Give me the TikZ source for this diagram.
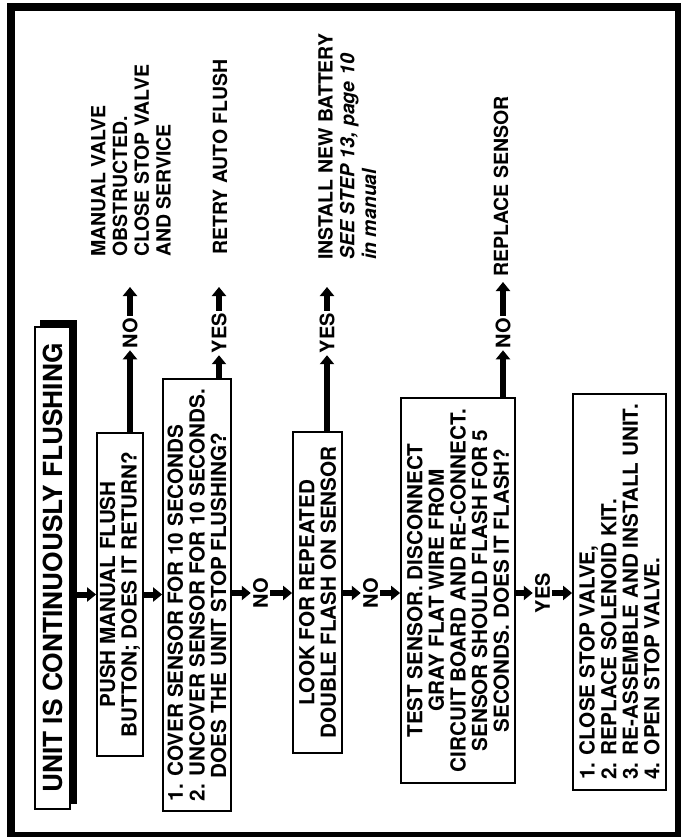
\documentclass[tikz,border=0pt]{standalone}
\usepackage{fontspec}
\setmainfont{TeX Gyre Heros}
\usetikzlibrary{arrows.meta,backgrounds}

\begin{document}
\begin{tikzpicture}[x=1pt, y=-1pt,
			every node/.style={rotate=90, font=\bfseries},
			box/.style={draw, line width=1.8pt, fill=white, inner sep=0pt, font=\fontsize{20.7}{21.6}\selectfont\bfseries},
			answer/.style={inner sep=2pt, font=\fontsize{20}{21}\selectfont\bfseries},
			result/.style={inner sep=0pt, align=left, font=\fontsize{19.5}{21.7}\selectfont\bfseries},
			flow/.style={line width=6pt, -{Triangle[width=14pt,length=9pt]}}]
			\useasboundingbox (0,0) rectangle (680,837);
			\draw[line width=8pt] (11,7.5) rectangle (679,836);
			\node[box, minimum width=482pt, minimum height=35pt, font=\fontsize{26.3}{28}\selectfont\bfseries] (title) at (52.5,568) {UNIT IS CONTINUOUSLY FLUSHING};
			\begin{scope}[on background layer]
			\fill ([shift={(6,-6)}]title.north west) rectangle ([shift={(6,-6)}]title.south east);
			\end{scope}
			\node[box, minimum width=323pt, minimum height=46pt, align=center] (b1) at (120,594.5) {PUSH MANUAL FLUSH\\BUTTON; DOES IT RETURN?};
			\node[box, minimum width=432pt, minimum height=68pt, align=left] (b2) at (197,595) {1. COVER SENSOR FOR 10 SECONDS\\2. UNCOVER SENSOR FOR 10 SECONDS.\\\hphantom{2.~}DOES THE UNIT STOP FLUSHING?};
			\node[box, minimum width=321pt, minimum height=49pt, align=center] (b3) at (317.5,592.5) {LOOK FOR REPEATED\\DOUBLE FLASH ON SENSOR};
			\node[box, minimum width=385pt, minimum height=114pt, align=center] (b4) at (458,590.5) {TEST SENSOR. DISCONNECT\\GRAY FLAT WIRE FROM\\CIRCUIT BOARD AND RE-CONNECT.\\SENSOR SHOULD FLASH FOR 5\\SECONDS. DOES IT FLASH?};
			\node[box, minimum width=396pt, minimum height=93pt, align=left] (b5) at (619.5,592) {1. CLOSE STOP VALVE,\\2. REPLACE SOLENOID KIT.\\3. RE-ASSEMBLE AND INSTALL UNIT.\\4. OPEN STOP VALVE.};
			\node[answer] (m1) at (260.5,593) {NO};
			\node[answer] (m2) at (370.5,593) {NO};
			\node[answer] (m3) at (542.5,593) {YES};
			\node[answer] (s1) at (130,333) {NO};
			\node[answer] (s2) at (219,333) {YES};
			\node[answer] (s3) at (327,333) {YES};
			\node[answer] (s4) at (503,333) {NO};
			\node[result, anchor=west] (r1) at (131,257) {MANUAL VALVE\\OBSTRUCTED.\\CLOSE STOP VALVE\\AND SERVICE};
			\node[result, anchor=west] (r2) at (220,255) {RETRY AUTO FLUSH};
			\node[result, anchor=north west] (r3) at (318,260) {INSTALL NEW BATTERY\\\textit{SEE STEP 13, page 10}\\\textit{in manual}};
			\node[result, anchor=west] (r4) at (501,277) {REPLACE SENSOR};
			\coordinate (t0) at ([xshift=6pt]title.south);
			\draw[flow] (t0 |- b1) -- (b1.north);
			\draw[flow] (b1.south) -- (b1.south -| b2.north);
			\draw[flow] (b2.south |- m1) -- (m1.north);
			\draw[flow] (m1.south) -- (m1 -| b3.north);
			\draw[flow] (b3.south |- m2) -- (m2.north);
			\draw[flow] (m2.south) -- (m2 -| b4.north);
			\draw[flow] (b4.south |- m3) -- (m3.north);
			\draw[flow] (m3.south) -- (m3 -| b5.north);
			\draw[flow] (s1 |- b1.east) -- (s1.west);
			\draw[flow, shorten >=30pt] (s1.east) -- (s1 |- r1.west);
			\draw[flow] (s2 |- b2.east) -- (s2.west);
			\draw[flow, shorten >=32pt] (s2.east) -- (s2 |- r2.west);
			\draw[flow] (s3 |- b3.east) -- (s3.west);
			\draw[flow, shorten >=27pt] (s3.east) -- (s3 |- r3.west);
			\draw[flow] (s4 |- b4.east) -- (s4.west);
			\draw[flow, shorten >=5pt] (s4.east) -- (s4 |- r4.west);
			\end{tikzpicture}
\end{document}
